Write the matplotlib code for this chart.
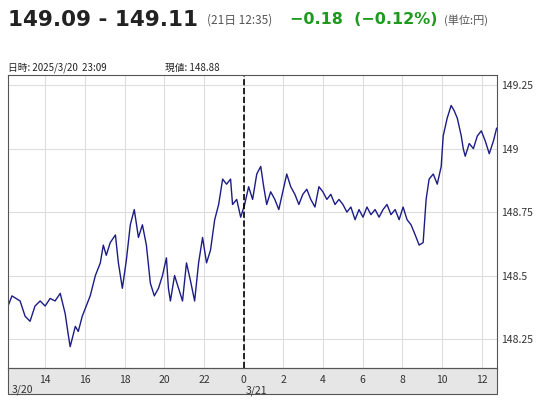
import numpy as np
import matplotlib.pyplot as plt
from matplotlib.transforms import blended_transform_factory
from matplotlib.patches import Rectangle

plt.rcParams['font.family'] = ['Noto Sans CJK JP', 'DejaVu Sans']

# hours since 3/20 00:00
hours = [12.13, 12.33, 12.74, 12.99, 13.24, 13.49, 13.75, 14.0, 14.25, 14.5, 14.76, 15.01, 15.16,
         15.26, 15.36, 15.52, 15.67, 15.87, 16.07, 16.27, 16.53, 16.78, 16.93, 17.08, 17.28, 17.54,
         17.69, 17.89, 18.09, 18.29, 18.49, 18.7, 18.9, 19.1, 19.3, 19.5, 19.71, 19.91, 20.11, 20.21,
         20.31, 20.52, 20.72, 20.92, 21.12, 21.32, 21.53, 21.73, 21.93, 22.13, 22.33, 22.54, 22.74,
         22.94, 23.14, 23.34, 23.44, 23.65, 23.85, 24.05, 24.25, 24.45, 24.66, 24.86, 25.01, 25.16,
         25.36, 25.57, 25.77, 25.97, 26.17, 26.37, 26.58, 26.78, 26.98, 27.18, 27.38, 27.59, 27.79,
         27.99, 28.19, 28.39, 28.6, 28.8, 29.0, 29.2, 29.4, 29.61, 29.81, 30.01, 30.21, 30.41, 30.62,
         30.82, 31.02, 31.22, 31.42, 31.63, 31.83, 32.03, 32.23, 32.43, 32.64, 32.84, 33.04, 33.19,
         33.34, 33.55, 33.75, 33.95, 34.05, 34.25, 34.45, 34.6, 34.76, 34.96, 35.06, 35.16, 35.36,
         35.57, 35.77, 35.97, 36.17, 36.37, 36.58, 36.74]
prices = [148.38, 148.42, 148.40, 148.34, 148.32, 148.38, 148.40, 148.38, 148.41, 148.40, 148.43,
          148.35, 148.27, 148.22, 148.25, 148.30, 148.28, 148.34, 148.38, 148.42, 148.50, 148.55,
          148.62, 148.58, 148.63, 148.66, 148.55, 148.45, 148.56, 148.70, 148.76, 148.65, 148.70,
          148.62, 148.47, 148.42, 148.45, 148.50, 148.57, 148.45, 148.40, 148.50, 148.45, 148.40,
          148.55, 148.48, 148.40, 148.55, 148.65, 148.55, 148.60, 148.72, 148.78, 148.88, 148.86,
          148.88, 148.78, 148.80, 148.73, 148.78, 148.85, 148.80, 148.90, 148.93, 148.85, 148.78,
          148.83, 148.80, 148.76, 148.83, 148.90, 148.85, 148.82, 148.78, 148.82, 148.84, 148.80,
          148.77, 148.85, 148.83, 148.80, 148.82, 148.78, 148.80, 148.78, 148.75, 148.77, 148.72,
          148.76, 148.73, 148.77, 148.74, 148.76, 148.73, 148.76, 148.78, 148.74, 148.76, 148.72,
          148.77, 148.72, 148.70, 148.66, 148.62, 148.63, 148.80, 148.88, 148.90, 148.86, 148.93,
          149.05, 149.12, 149.17, 149.15, 149.12, 149.05, 149.00, 148.97, 149.02, 149.00, 149.05,
          149.07, 149.03, 148.98, 149.03, 149.08]
xticks = [14, 16, 18, 20, 22, 24, 26, 28, 30, 32, 34, 36]
xlabels = ['14', '16', '18', '20', '22', '0', '2', '4', '6', '8', '10', '12']
yticks = [148.25, 148.5, 148.75, 149.0, 149.25]
ylabels = ['148.25', '148.5', '148.75', '149', '149.25']

fig = plt.figure(figsize=(5.52, 4), dpi=100)
ax = fig.add_axes([8/552, 1-368/400, 489/552, 293/400])
ax.plot(hours, prices, color='#1c1c85', lw=1)
ax.axvline(24, color='black', ls='--', lw=1.2)
ax.set_xlim(12.13, 36.76)
ax.set_ylim(148.136, 149.29)
ax.set_xticks(xticks)
ax.set_xticklabels(xlabels, fontsize=7.5, color='#333333')
ax.set_yticks(yticks)
ax.set_yticklabels(ylabels, fontsize=7.5, color='#333333')
ax.yaxis.tick_right()
ax.tick_params(length=0, pad=5)
ax.tick_params(axis='y', pad=3)
ax.grid(color='#dddddd', lw=0.8)
for s in ax.spines.values():
    s.set_color('#555555')

# gray band below the axis
ax.add_patch(Rectangle((0, -26/293), 1, 26/293, transform=ax.transAxes, clip_on=False,
                       facecolor='#e6e6e6', edgecolor='#555555', lw=0.8, zorder=-1))
tr = blended_transform_factory(ax.transData, fig.transFigure)
ax.text(12.3, 1-395/400, '3/20', transform=tr, fontsize=7.5, color='#333333', va='bottom')
ax.text(24.1, 1-396/400, '3/21', transform=tr, fontsize=7.5, color='#333333', va='bottom')

fig.text(8/552, 1-20/400, '149.09 - 149.11', fontsize=15.5, fontweight='bold', color='#222222', va='center',
         family=['DejaVu Sans'])
fig.text(207/552, 1-20/400, '(21日 12:35)', fontsize=8.5, color='#555555', va='center')
fig.text(290/552, 1-19/400, '\u22120.18  (\u22120.12%)', fontsize=11.5, fontweight='bold', color='#1e9a1e', va='center',
         family=['DejaVu Sans'])
fig.text(444/552, 1-20/400, '(単位:円)', fontsize=8, color='#555555', va='center')
fig.text(8/552, 1-68/400, '日時: 2025/3/20  23:09', fontsize=7, color='#222222', va='center')
fig.text(165/552, 1-68/400, '現値: 148.88', fontsize=7, color='#222222', va='center')

fig.savefig('out.png')
